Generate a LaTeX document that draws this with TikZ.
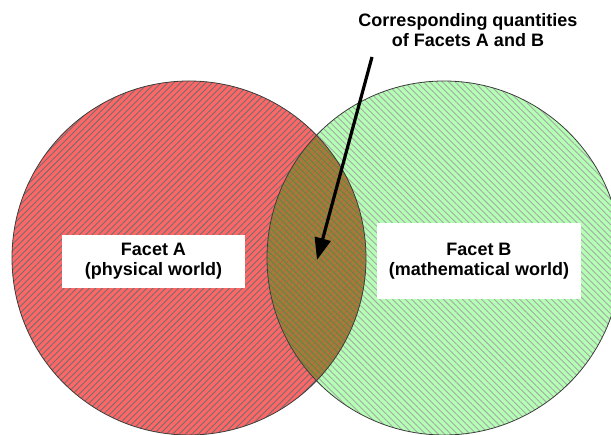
\documentclass[tikz,border=0pt]{standalone}
\usepackage{fontspec}
\setmainfont{Liberation Sans}
\usetikzlibrary{patterns.meta,arrows.meta}
\definecolor{redfill}{HTML}{FF6666}
\definecolor{greenfill}{HTML}{B3FFB3}
\definecolor{lensfill}{HTML}{A07E3A}
\definecolor{redhatch}{HTML}{707070}
\definecolor{greenhatch}{HTML}{A8A8A8}
\definecolor{lensred}{HTML}{C85A50}
\definecolor{lensgreen}{HTML}{4E8E3E}
\definecolor{edgecol}{HTML}{3C3C3C}
\begin{document}
\begin{tikzpicture}[x=1pt,y=-1pt,
  labelbox/.style={fill=white, inner sep=0pt, align=center,
    font=\bfseries\fontsize{18}{20}\selectfont},
  titletext/.style={inner sep=0pt, align=center,
    font=\bfseries\fontsize{18}{20}\selectfont},
  pointer/.style={line width=3.2pt, -{Triangle[length=22pt,width=16pt]}}]
\useasboundingbox (0,0) rectangle (611,435);
\coordinate (ca) at (189,258);
\coordinate (cb) at (444,258);
\begin{scope}
  \clip (0,0) rectangle (611,435);
  % facet A circle
  \fill[redfill] (ca) circle[radius=177pt];
  \fill[pattern={Lines[angle=45,distance=4.5pt,line width=0.9pt]}, pattern color=redhatch] (ca) circle[radius=177pt];
  % facet B circle
  \fill[greenfill] (cb) circle[radius=177pt];
  \fill[pattern={Lines[angle=-45,distance=4.5pt,line width=0.9pt]}, pattern color=greenhatch] (cb) circle[radius=177pt];
  % overlap
  \begin{scope}
    \clip (ca) circle[radius=177pt];
    \fill[lensfill] (cb) circle[radius=177pt];
    \fill[pattern={Lines[angle=45,distance=4.5pt,line width=0.7pt]}, pattern color=lensred] (cb) circle[radius=177pt];
    \fill[pattern={Lines[angle=-45,distance=4.5pt,line width=0.7pt]}, pattern color=lensgreen] (cb) circle[radius=177pt];
  \end{scope}
  \draw[edgecol, line width=0.8pt] (ca) circle[radius=177pt];
  \draw[edgecol, line width=0.8pt] (cb) circle[radius=177pt];
\end{scope}
% label boxes
\node[labelbox, minimum width=183pt, minimum height=53pt] (facetA) at (153.5,261.5) {Facet A\\(physical world)};
\node[labelbox, minimum width=204pt, minimum height=76pt] (facetB) at (479,261) {Facet B\\(mathematical world)};
% title
\node[titletext] (title) at (468,30) {Corresponding quantities\\of Facets A and B};
% arrow
\coordinate (astart) at (372,57);
\coordinate (atip) at (317,260);
\draw[pointer] (astart) -- (atip);
\end{tikzpicture}
\end{document}
